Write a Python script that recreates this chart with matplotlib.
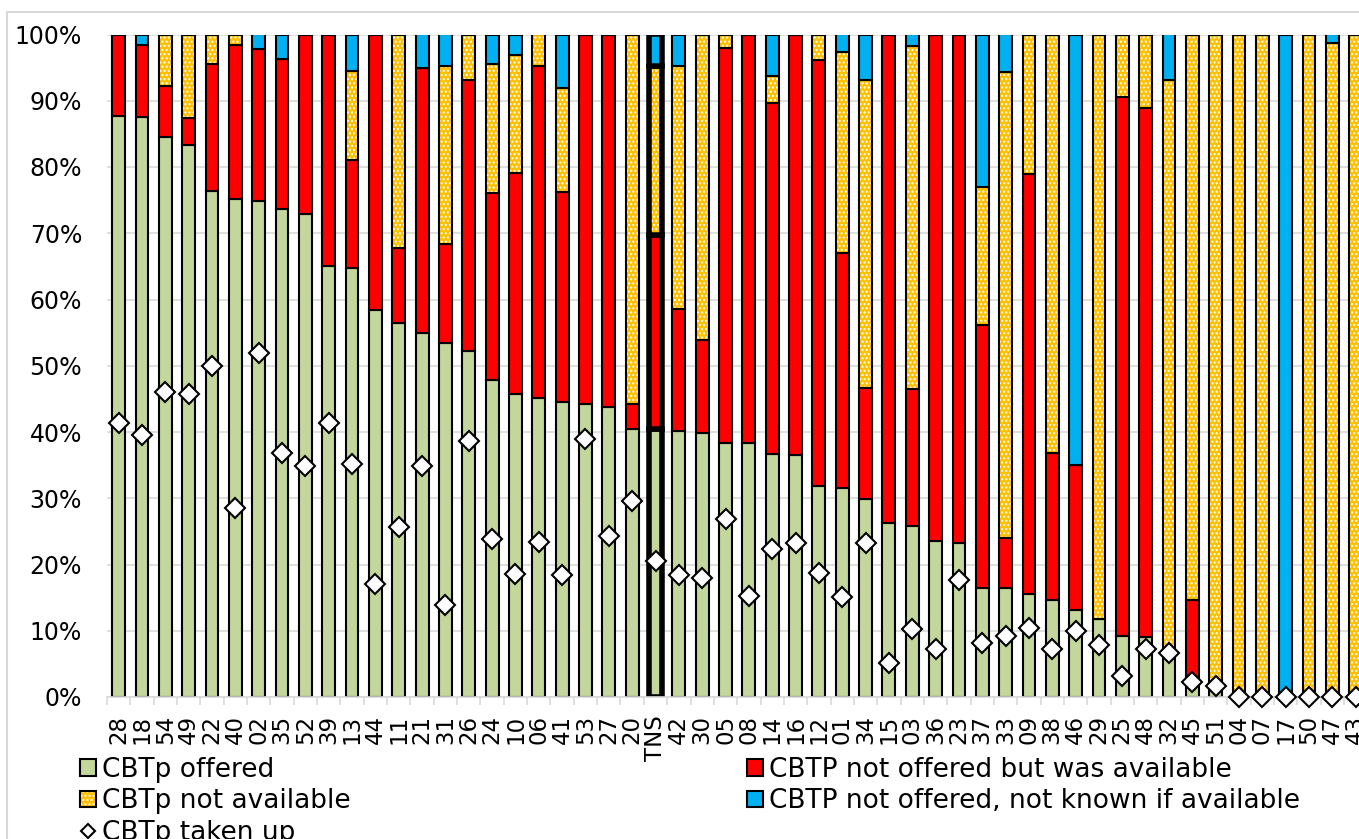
import matplotlib
matplotlib.use("Agg")
import matplotlib.pyplot as plt
from matplotlib.patches import Patch, Rectangle
from matplotlib.lines import Line2D
from matplotlib.legend_handler import HandlerTuple
import numpy as np

# trust codes, sorted by share offered CBTp; TNS = national total
labels = ["28", "18", "54", "49", "22", "40", "02", "35", "52", "39", "13", "44",
          "11", "21", "31", "26", "24", "10", "06", "41", "53", "27", "20", "TNS",
          "42", "30", "05", "08", "14", "16", "12", "01", "34", "15", "03", "36",
          "23", "37", "33", "09", "38", "46", "29", "25", "48", "32", "45", "51",
          "04", "07", "17", "50", "47", "43"]

# percentages, bottom to top of each stack
offered = [87.7, 87.6, 84.6, 83.3, 76.4, 75.2, 74.9, 73.6, 72.9, 65.1, 64.8, 58.4,
           56.4, 54.9, 53.4, 52.2, 47.8, 45.7, 45.2, 44.6, 44.2, 43.7, 40.5, 40.4,
           40.1, 39.9, 38.4, 38.3, 36.7, 36.5, 31.9, 31.5, 29.9, 26.2, 25.8, 23.5,
           23.3, 16.5, 16.5, 15.6, 14.6, 13.1, 11.8, 9.2, 9.1, 7.0, 2.0, 1.5,
           0, 0, 0, 0, 0, 0]
not_offered_avail = [12.3, 10.8, 7.6, 4.1, 19.1, 23.2, 22.9, 22.7, 27.1, 34.9, 16.2, 41.6,
                     11.3, 40.0, 15.0, 40.9, 28.3, 33.4, 50.1, 31.7, 55.8, 56.3, 3.8, 29.3,
                     18.4, 14.0, 59.6, 61.7, 52.9, 63.5, 64.3, 35.5, 16.7, 73.8, 20.7, 76.5,
                     76.7, 39.6, 7.5, 63.3, 22.3, 21.9, 0, 81.3, 79.8, 0, 12.7, 0,
                     0, 0, 0, 0, 0, 0]
not_available = [0, 0, 7.8, 12.6, 4.5, 1.6, 0, 0, 0, 0, 13.5, 0,
                 32.3, 0, 26.8, 6.9, 19.5, 17.8, 4.7, 15.7, 0, 0, 55.7, 25.6,
                 36.8, 46.1, 2.0, 0, 4.2, 0, 3.8, 30.4, 46.6, 0, 51.7, 0,
                 0, 20.9, 70.4, 21.1, 63.1, 0, 88.2, 9.5, 11.1, 86.2, 85.3, 98.5,
                 100, 100, 0, 100, 98.7, 100]
not_known = [0, 1.6, 0, 0, 0, 0, 2.2, 3.7, 0, 0, 5.5, 0,
             0, 5.1, 4.8, 0, 4.4, 3.1, 0, 8.0, 0, 0, 0, 4.7,
             4.7, 0, 0, 0, 6.2, 0, 0, 2.6, 6.8, 0, 1.8, 0,
             0, 23.0, 5.6, 0, 0, 65.0, 0, 0, 0, 6.8, 0, 0,
             0, 0, 100, 0, 1.3, 0]
taken_up = [41.4, 39.6, 46.0, 45.7, 49.9, 28.6, 51.9, 36.8, 34.8, 41.3, 35.1, 17.0,
            25.7, 34.9, 13.9, 38.6, 23.8, 18.6, 23.4, 18.4, 38.9, 24.3, 29.6, 20.5,
            18.4, 17.9, 26.8, 15.3, 22.4, 23.3, 18.7, 15.1, 23.3, 5.2, 10.2, 7.2,
            17.6, 8.2, 9.2, 10.4, 7.3, 9.9, 7.9, 3.1, 7.3, 6.6, 2.3, 1.7,
            0, 0, 0, 0, 0, 0]

GREEN = "#C3D69B"
RED = "#FF0000"
ORANGE = "#FFC000"
BLUE = "#00B0F0"
GRID = "#D9D9D9"

plt.rcParams["font.family"] = "DejaVu Sans"
plt.rcParams["hatch.linewidth"] = 1.0

W, H = 1359, 839
fig = plt.figure(figsize=(W / 100, H / 100), dpi=100)
ax = fig.add_axes([107 / W, 1 - 697 / H, 1260.4 / W, (697 - 34.5) / H])

x = np.arange(len(labels))
width = 0.55
lws = np.full(len(labels), 1.5)
lws[labels.index("TNS")] = 4.0

b1 = np.array(offered)
b2 = b1 + np.array(not_offered_avail)
b3 = b2 + np.array(not_available)

ax.bar(x, offered, width, color=GREEN, edgecolor="black", linewidth=lws, zorder=2)
ax.bar(x, not_offered_avail, width, bottom=b1, color=RED, edgecolor="black",
       linewidth=lws, zorder=2)
# hatched fill first (white hatch), black outline on top
ax.bar(x, not_available, width, bottom=b2, color=ORANGE, edgecolor="white",
       hatch="....", linewidth=0, zorder=2)
ax.bar(x, not_available, width, bottom=b2, fill=False, edgecolor="black",
       linewidth=lws, zorder=2)
ax.bar(x, not_known, width, bottom=b3, color=BLUE, edgecolor="black",
       linewidth=lws, zorder=2)

ax.plot(x, taken_up, ls="none", marker="D", ms=10, mfc="white", mec="black",
        mew=1.5, zorder=5, clip_on=False)

ax.set_xlim(-0.5, len(labels) - 0.5)
ax.set_ylim(0, 100)
ax.set_yticks(np.arange(0, 101, 10))
ax.set_yticklabels([f"{v}%" for v in range(0, 101, 10)])
ax.set_xticks(x)
ax.set_xticklabels(labels, rotation=90)
ax.set_xticks(np.arange(-0.5, len(labels), 1), minor=True)

ax.tick_params(axis="y", length=0, pad=18, labelsize=17)
ax.tick_params(axis="x", which="major", length=0, pad=13, labelsize=16.5)
ax.tick_params(axis="x", which="minor", length=6, width=1.2, color=GRID)

ax.set_axisbelow(True)
ax.yaxis.grid(True, color=GRID, lw=1.2)
for s in ("left", "top", "right"):
    ax.spines[s].set_visible(False)
ax.spines["bottom"].set_color(GRID)
ax.spines["bottom"].set_linewidth(1.2)

# chart area frame
fig.add_artist(Rectangle((7 / W, -0.2), 1.2, 1.2 - 12 / H, transform=fig.transFigure,
                         fill=False, edgecolor=GRID, lw=1.5))

h_green = Patch(facecolor=GREEN, edgecolor="black", lw=1.5)
h_orange = (Patch(facecolor=ORANGE, edgecolor="white", hatch="....", lw=0),
            Patch(fill=False, edgecolor="black", lw=1.5))
h_diamond = Line2D([], [], ls="none", marker="D", ms=7, mfc="white", mec="black", mew=1.5)
h_red = Patch(facecolor=RED, edgecolor="black", lw=1.5)
h_blue = Patch(facecolor=BLUE, edgecolor="black", lw=1.5)

fig.legend([h_green, h_orange, h_diamond, h_red, h_blue],
           ["CBTp offered", "CBTp not available", "CBTp taken up",
            "CBTP not offered but was available",
            "CBTP not offered, not known if available"],
           ncol=2, loc="upper left", bbox_to_anchor=(80 / W, 1 - 757 / H),
           frameon=False, fontsize=19, handlelength=0.6, handleheight=0.6,
           handletextpad=0.25, columnspacing=15.0, labelspacing=0.2,
           borderpad=0, borderaxespad=0,
           handler_map={tuple: HandlerTuple(ndivide=1, pad=0)})

fig.savefig("out.png", dpi=100)
